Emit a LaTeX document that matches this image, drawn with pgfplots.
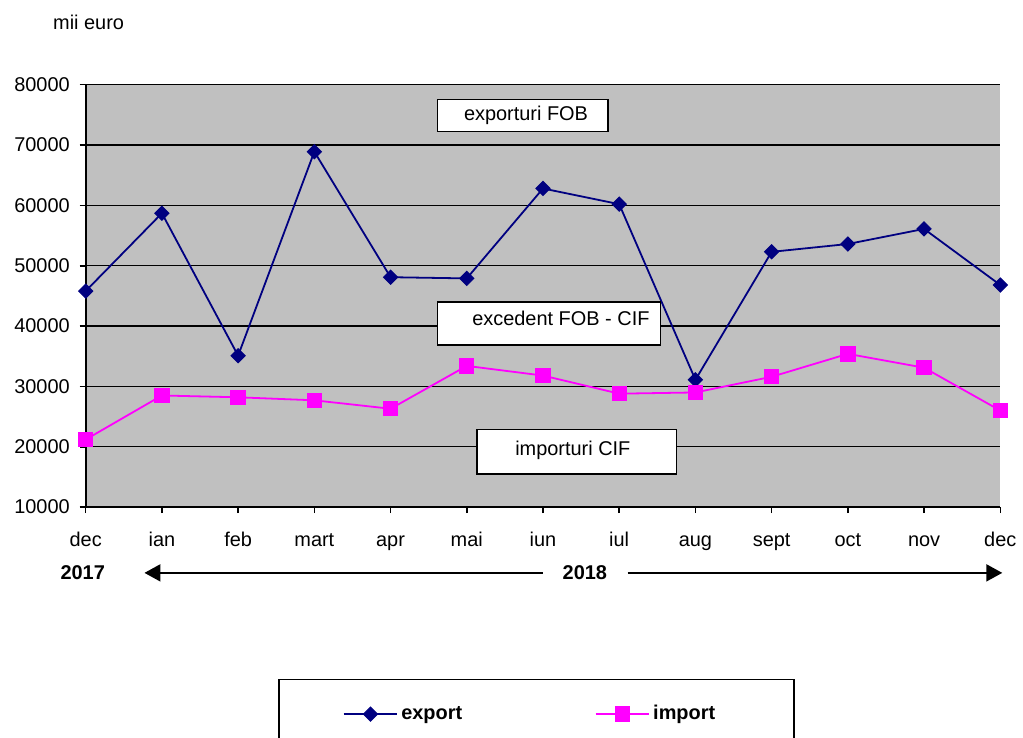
\documentclass[border=0pt]{standalone}
\usepackage{pgfplots}
\pgfplotsset{compat=1.18}
\usepackage{fontspec}
\setmainfont{Liberation Sans}
\usetikzlibrary{arrows.meta}

\definecolor{plotbg}{HTML}{C0C0C0}
\definecolor{expcol}{HTML}{000080}
\definecolor{impcol}{HTML}{FF00FF}

\begin{document}
\begin{tikzpicture}[font=\fontsize{10}{12}\selectfont]
  % pixel frame of the reference: 1px = 0.5pt, origin top-left
  \begin{scope}[x=0.5pt,y=-0.5pt,shift={(-43pt,254.5pt)}]
    \useasboundingbox (0,0) rectangle (1023,740);
    % legend frame (runs past the bottom edge, as in the reference)
    \draw[line width=0.8pt] (280,682) rectangle (797,770);
  \end{scope}

  \begin{axis}[
      scale only axis,
      width=459pt, height=212pt,
      xmin=0, xmax=12,
      ymin=10000, ymax=80000,
      xtick={0,...,12},
      xticklabels={dec,ian,feb,mart,apr,mai,iun,iul,aug,sept,oct,nov,dec},
      ytick={10000,20000,...,80000},
      scaled y ticks=false,
      axis x line*=bottom,
      axis y line*=left,
      axis line style={line width=1pt},
      tick style={black, line width=0.8pt},
      tick align=outside,
      major tick length=3pt,
      ymajorgrids,
      grid style={black, line width=0.7pt},
      axis background/.style={fill=plotbg},
      /pgf/number format/assume math mode=true,
      /pgf/number format/1000 sep={},
      ticklabel style={font=\fontsize{10}{12}\selectfont},
      xticklabel style={yshift=-6pt, text height=7pt, text depth=2pt},
      yticklabel style={xshift=-1.5pt},
      legend columns=2,
      legend style={
        at={(0.2800,-0.490)}, anchor=west,
        draw=none, fill=none, inner xsep=0pt, inner ysep=0pt,
        line width=0.9pt,
        font=\bfseries\fontsize{10}{12}\selectfont,
        nodes={inner xsep=1.5pt},
        /tikz/every even column/.append style={column sep=65pt},
      },
      legend image code/.code={
        \draw[mark repeat=2,mark phase=2] plot coordinates {(0pt,0pt) (13.5pt,0pt) (27pt,0pt)};
      },
    ]

    \addplot[expcol, line width=0.9pt, mark=square*,
      mark options={rotate=45, fill=expcol, line width=0.5pt}, mark size=2.5pt]
      coordinates {
        (0,45800) (1,58700) (2,35100) (3,68900) (4,48100) (5,47900) (6,62800)
        (7,60200) (8,31100) (9,52300) (10,53600) (11,56100) (12,46800)
      };
    \addlegendentry{export}

    \addplot[impcol, line width=0.9pt, mark=square*,
      mark options={fill=impcol, line width=0.5pt}, mark size=3.6pt]
      coordinates {
        (0,21200) (1,28500) (2,28200) (3,27700) (4,26300) (5,33400) (6,31800)
        (7,28800) (8,29000) (9,31600) (10,35400) (11,33100) (12,26000)
      };
    \addlegendentry{import}
  \end{axis}

  \begin{scope}[x=0.5pt,y=-0.5pt,shift={(-43pt,254.5pt)}]
    % unit label
    \node[anchor=west, inner sep=0pt] at (53,22) {mii euro};
    % text boxes in the plot
    \draw[fill=white, line width=0.8pt] (439,100) rectangle (610,132);
    \node[inner sep=0pt] at (528,116) {exporturi FOB};
    \draw[fill=white, line width=0.8pt] (439,303) rectangle (663,346);
    \node[inner sep=0pt] at (563,320) {excedent FOB - CIF};
    \draw[fill=white, line width=0.8pt] (479,431) rectangle (679,476);
    \node[inner sep=0pt] at (575,452) {importuri CIF};
    % years and arrows
    \node[font=\bfseries\fontsize{10}{12}\selectfont, inner sep=0pt] at (83,575) {2017};
    \node[font=\bfseries\fontsize{10}{12}\selectfont, inner sep=0pt] at (587,575) {2018};
    \draw[line width=1pt, -{Triangle[length=8pt,width=8.5pt]}] (545,575) -- (145,575);
    \draw[line width=1pt, -{Triangle[length=8pt,width=8.5pt]}] (630,575) -- (1006,575);
  \end{scope}
\end{tikzpicture}
\end{document}
